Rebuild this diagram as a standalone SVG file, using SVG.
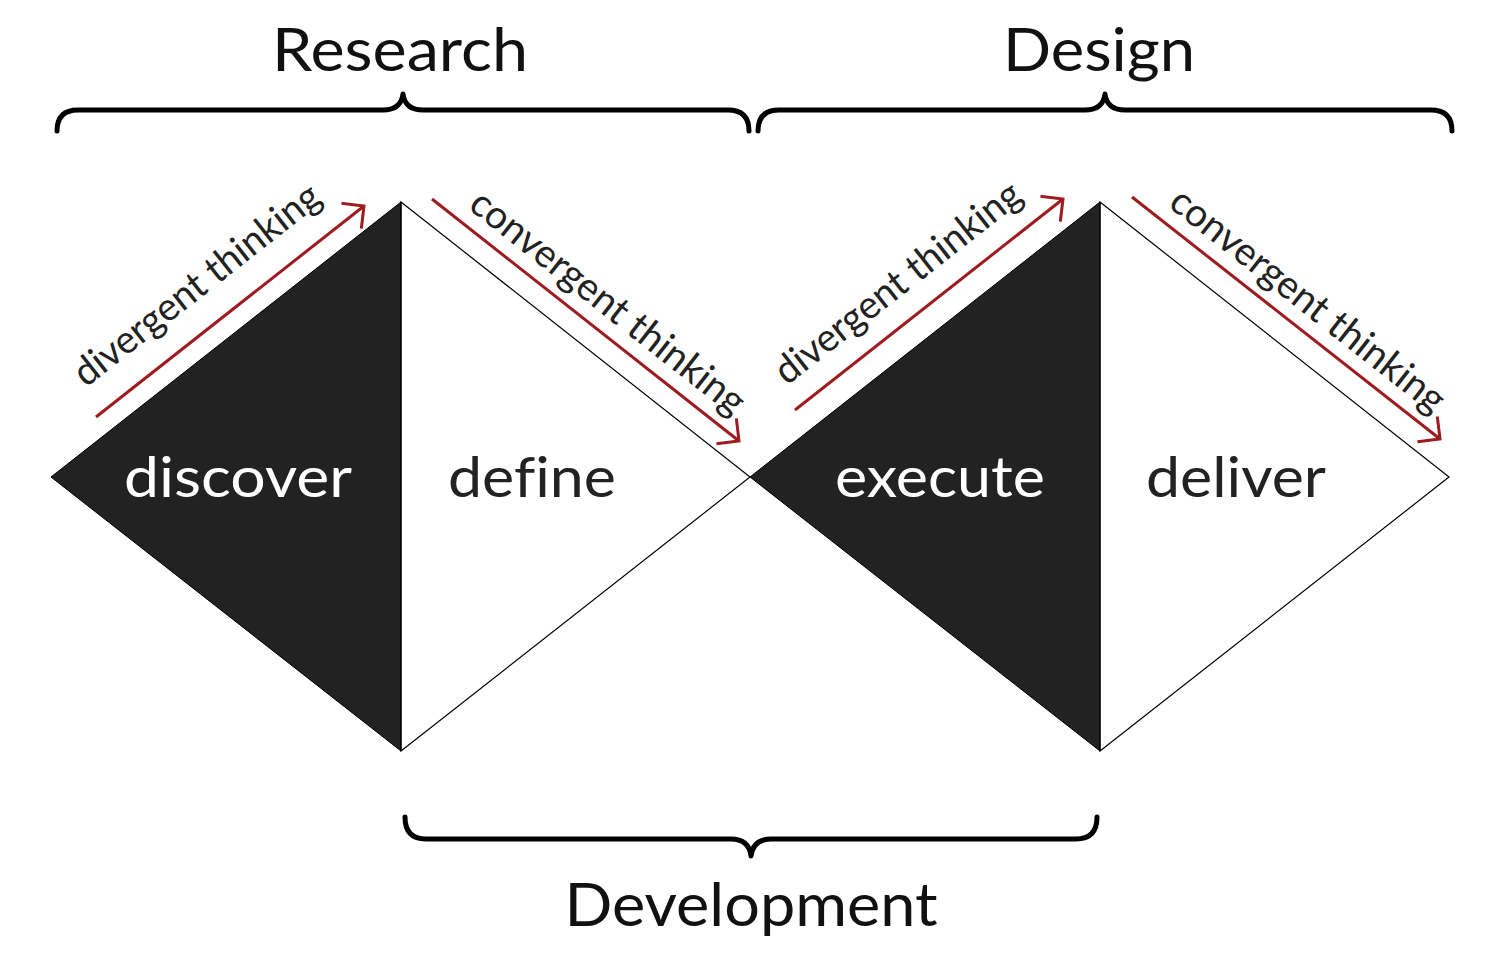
<svg xmlns="http://www.w3.org/2000/svg" width="1500" height="956" viewBox="0 0 1500 956">
<defs>
<style>
text{font-variant-ligatures:none;font-feature-settings:"liga" 0,"clig" 0}
.title{font-family:Lato,"Liberation Sans",sans-serif;font-size:60px;fill:#111;text-anchor:middle}
.phase{font-family:Lato,"Liberation Sans",sans-serif;font-size:56px;text-anchor:middle}
.light{fill:#ffffff}
.dark{fill:#222222}
.think{font-family:Lato,"Liberation Sans",sans-serif;font-size:39px;fill:#222}
.brace{fill:none;stroke:#000;stroke-width:5;stroke-linecap:round;stroke-linejoin:round}
.edge{fill:none;stroke:#000;stroke-width:1.2}
.arrow{fill:none;stroke:#9e1b20;stroke-width:3;marker-end:url(#head)}
</style>
<marker id="head" markerUnits="userSpaceOnUse" viewBox="-18 -18 22 36" refX="0" refY="0" markerWidth="22" markerHeight="36" orient="auto">
<path d="M-15,-15 L0,0 L-15,15" fill="none" stroke="#9e1b20" stroke-width="3" stroke-linecap="square"/>
</marker>
</defs>
<rect width="1500" height="956" fill="#ffffff"/>

<g id="diamond-research">
<polygon points="51,477 401,202 401,751" fill="#222222" stroke="#000" stroke-width="1"/>
<polygon points="401,202 750,477 401,751" fill="#ffffff" class="edge"/>
</g>
<g id="diamond-design">
<polygon points="750,477 1100,202 1100,751" fill="#222222" stroke="#000" stroke-width="1"/>
<polygon points="1100,202 1449,477 1100,751" fill="#ffffff" class="edge"/>
</g>

<g id="node-discover"><text class="phase light" x="238" y="497" textLength="228" lengthAdjust="spacingAndGlyphs">discover</text></g>
<g id="node-define"><text class="phase dark" x="532" y="497" textLength="168" lengthAdjust="spacingAndGlyphs">define</text></g>
<g id="node-execute"><text class="phase light" x="940" y="497" textLength="210" lengthAdjust="spacingAndGlyphs">execute</text></g>
<g id="node-deliver"><text class="phase dark" x="1236" y="497" textLength="180" lengthAdjust="spacingAndGlyphs">deliver</text></g>

<g id="brace-research">
<path class="brace" d="M57,131 Q57,110 78,110 L383,110 Q401,110 403,94 Q405,110 423,110 L728,110 Q749,110 749,131"/>
<text class="title" x="400" y="71" textLength="256" lengthAdjust="spacingAndGlyphs">Research</text>
</g>
<g id="brace-design">
<path class="brace" d="M758,131 Q758,110 779,110 L1085,110 Q1103,110 1105,94 Q1107,110 1125,110 L1431,110 Q1452,110 1452,131"/>
<text class="title" x="1099" y="71" textLength="192" lengthAdjust="spacingAndGlyphs">Design</text>
</g>
<g id="brace-development">
<path class="brace" d="M405,817 Q405,839 426,839 L731,839 Q749,839 751,856 Q753,839 771,839 L1076,839 Q1097,839 1097,817"/>
<text class="title" x="751" y="926" textLength="373" lengthAdjust="spacingAndGlyphs">Development</text>
</g>

<g id="connectors">
<line class="arrow" x1="96" y1="417" x2="364" y2="206"/>
<line class="arrow" x1="432" y1="199" x2="739" y2="441"/>
<line class="arrow" x1="795" y1="410" x2="1063" y2="199"/>
<line class="arrow" x1="1132" y1="197" x2="1440" y2="439"/>
</g>

<g id="labels-thinking">
<text class="think" transform="translate(86,388) rotate(-38.16)" textLength="302" lengthAdjust="spacingAndGlyphs">divergent thinking</text>
<text class="think" transform="translate(467,208) rotate(38.16)" textLength="338" lengthAdjust="spacingAndGlyphs">convergent thinking</text>
<text class="think" transform="translate(787,386) rotate(-38.16)" textLength="302" lengthAdjust="spacingAndGlyphs">divergent thinking</text>
<text class="think" transform="translate(1167,206) rotate(38.16)" textLength="338" lengthAdjust="spacingAndGlyphs">convergent thinking</text>
</g>
</svg>
